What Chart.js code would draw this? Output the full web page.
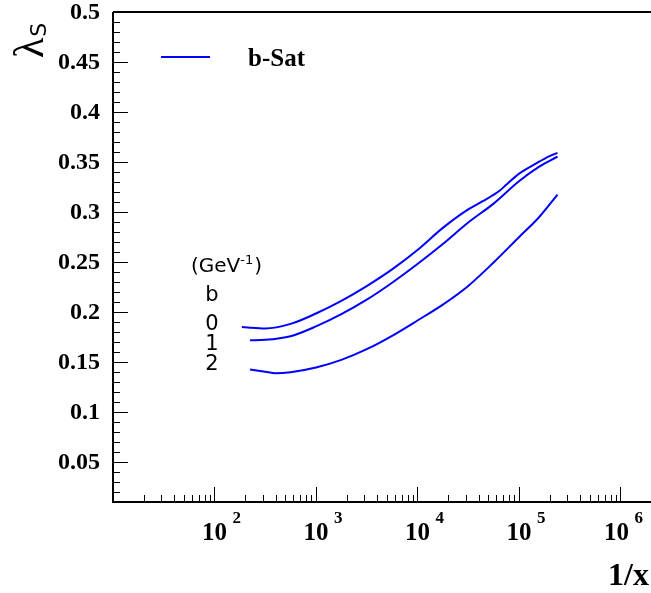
<!DOCTYPE html>
<html><head><meta charset="utf-8">
<script src="https://cdn.jsdelivr.net/npm/chart.js@4"></script>
<style>html,body{margin:0;padding:0;background:#fff;overflow:hidden}canvas{display:block}</style>
</head><body>
<canvas id="c" width="651" height="593"></canvas>
<script>
// ---- data (1/x, lambda_s) ----
const invX_b0 = [186, 224, 316, 562, 1000, 1778, 3162, 5623, 10000, 17783, 31623, 43950, 64270, 74820, 101160, 147910, 200000, 239900];
const lam_b0  = [0.1851, 0.1843, 0.1835, 0.1881, 0.1985, 0.2111, 0.2259, 0.2426, 0.2620, 0.2841, 0.3026, 0.3108, 0.3212, 0.3272, 0.3386, 0.3486, 0.3559, 0.3592];
const invX_b1 = [224, 316, 562, 1000, 1778, 3162, 5623, 10000, 17783, 31623, 56234, 100000, 158489, 239900];
const lam_b1  = [0.1718, 0.1722, 0.1758, 0.1856, 0.1978, 0.2123, 0.2293, 0.2480, 0.2680, 0.2895, 0.3084, 0.3307, 0.3453, 0.3554];
const invX_b2 = [224, 316, 398, 562, 1000, 1778, 3162, 5623, 10000, 17783, 31623, 56234, 100000, 158489, 239900];
const lam_b2  = [0.1425, 0.1403, 0.1388, 0.1398, 0.1445, 0.1521, 0.1628, 0.1762, 0.1915, 0.2074, 0.2261, 0.2495, 0.2748, 0.2950, 0.3174];
const bLabels = ["0", "1", "2"];
const xExponents = [2, 3, 4, 5, 6];
const yTickLabels = ["0.05","0.1","0.15","0.2","0.25","0.3","0.35","0.4","0.45","0.5"];
const xMin = 10, xMax = 2e6, yMin = 0.01, yMax = 0.5;

const pts = (xs, ys) => xs.map((x, i) => ({x: x, y: ys[i]}));
const BLUE = 'rgb(0,0,255)';
const mk = (xs, ys, lab) => ({label: lab, data: pts(xs, ys), borderColor: BLUE, borderWidth: 2,
  pointRadius: 0, fill: false, cubicInterpolationMode: 'monotone'});

const SERIF = '"Liberation Serif", "Times New Roman", serif';
const SANS = '"DejaVu Sans", Arial, sans-serif';

const decor = {
  id: 'decor',
  afterDraw(chart) {
    const ctx = chart.ctx, a = chart.chartArea, xs = chart.scales.x, ys = chart.scales.y;
    ctx.save();
    ctx.strokeStyle = '#000'; ctx.fillStyle = '#000';
    // frame
    ctx.lineWidth = 2;
    ctx.beginPath();
    ctx.moveTo(a.left, a.top); ctx.lineTo(a.right, a.top);
    ctx.moveTo(a.left, a.top); ctx.lineTo(a.left, a.bottom);
    ctx.moveTo(a.left - 1, a.bottom); ctx.lineTo(a.right, a.bottom);
    ctx.stroke();
    // y ticks
    ctx.lineWidth = 1;
    ctx.beginPath();
    for (let i = 1; i <= 50; i++) {
      const py = Math.round(ys.getPixelForValue(i / 100)) + 0.5;
      const len = (i % 5 === 0) ? 15 : 7;
      ctx.moveTo(a.left, py); ctx.lineTo(a.left + len, py);
    }
    // x ticks
    for (let k = 1; k <= 6; k++) {
      for (let m = 1; m <= 9; m++) {
        const v = m * Math.pow(10, k);
        if (v <= xMin || v >= xMax) continue;
        const px = Math.round(xs.getPixelForValue(v)) + 0.5;
        const len = (m === 1) ? 15 : 7;
        ctx.moveTo(px, a.bottom); ctx.lineTo(px, a.bottom - len);
      }
    }
    ctx.stroke();
    // y labels
    ctx.font = 'bold 24px ' + SERIF;
    ctx.textAlign = 'right'; ctx.textBaseline = 'middle';
    yTickLabels.forEach(t => {
      ctx.fillText(t, a.left - 13, ys.getPixelForValue(parseFloat(t)) + 1);
    });
    // x labels 10^k
    xExponents.forEach(k => {
      const px = xs.getPixelForValue(Math.pow(10, k)) - (k === 6 ? 4 : 0);
      ctx.font = 'bold 25px ' + SERIF;
      ctx.textAlign = 'center'; ctx.textBaseline = 'alphabetic';
      ctx.fillText('10', px, a.bottom + 38);
      ctx.font = 'bold 17px ' + SERIF;
      ctx.textAlign = 'left';
      ctx.fillText(String(k), px + 18, a.bottom + 21);
    });
    // axis title x
    ctx.font = 'bold 32px ' + SERIF;
    ctx.textAlign = 'right'; ctx.textBaseline = 'alphabetic';
    ctx.fillText('1/x', 649, 585);
    // axis title y (rotated)
    ctx.save();
    ctx.translate(43, 58);
    ctx.rotate(-Math.PI / 2);
    ctx.textAlign = 'left'; ctx.textBaseline = 'alphabetic';
    ctx.font = '42px ' + SERIF;
    ctx.fillText('\u03bb', 0, 0);
    const lw = ctx.measureText('\u03bb').width;
    ctx.font = '22px ' + SANS;
    ctx.fillText('S', lw + 1, 3);
    ctx.restore();
    // legend
    ctx.strokeStyle = BLUE; ctx.lineWidth = 2;
    ctx.beginPath(); ctx.moveTo(161, 57); ctx.lineTo(210, 57); ctx.stroke();
    ctx.font = 'bold 25px ' + SERIF;
    ctx.textAlign = 'left'; ctx.textBaseline = 'alphabetic';
    ctx.fillText(chart.data.datasets[0].label, 248, 66);
    // annotations
    ctx.font = '20px ' + SANS;
    ctx.textAlign = 'left'; ctx.textBaseline = 'middle';
    ctx.fillText('(GeV', 191, 267);
    const w = ctx.measureText('(GeV').width;
    ctx.font = '13px ' + SANS;
    ctx.fillText('-1', 191 + w, 261);
    const w2 = ctx.measureText('-1').width;
    ctx.font = '20px ' + SANS;
    ctx.fillText(')', 191 + w + w2 + 1, 267);
    ctx.textAlign = 'center';
    ctx.font = '21px ' + SANS;
    ctx.fillText('b', 212, 296);
    const by = [325, 345, 365];
    bLabels.forEach((t, i) => ctx.fillText(t, 212, by[i]));
    ctx.restore();
  }
};

new Chart(document.getElementById('c'), {
  type: 'line',
  data: { datasets: [mk(invX_b0, lam_b0, 'b-Sat'), mk(invX_b1, lam_b1, 'b-Sat b=1'), mk(invX_b2, lam_b2, 'b-Sat b=2')] },
  options: {
    responsive: false, animation: false, devicePixelRatio: 1,
    layout: { padding: { left: 113, top: 12, right: 0, bottom: 91 } },
    plugins: { legend: { display: false }, tooltip: { enabled: false } },
    scales: {
      x: { type: 'logarithmic', min: xMin, max: xMax, display: false },
      y: { type: 'linear', min: yMin, max: yMax, display: false }
    }
  },
  plugins: [decor]
});
</script>
</body></html>
